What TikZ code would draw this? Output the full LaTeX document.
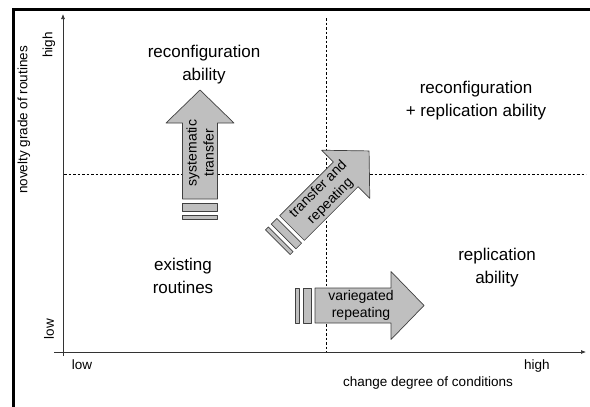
\documentclass[tikz,border=0pt]{standalone}
\usepackage{fontspec}
\setmainfont{Liberation Sans}
\usetikzlibrary{arrows.meta,positioning}

\begin{document}
\begin{tikzpicture}[
    x=1pt, y=-1pt,
    axis/.style={draw=black!80, line width=0.7pt, -{Latex[length=5pt,width=4pt]}},
    split/.style={draw=black, line width=0.6pt, dash pattern=on 2.5pt off 2pt},
    arr/.style={fill=black!25, draw=black!75, line width=0.7pt, line join=round},
    field/.style={align=center, font=\fontsize{17}{23}\selectfont},
    small/.style={align=center, font=\fontsize{13.5}{17}\selectfont},
    albl/.style={align=center, font=\fontsize{14}{17}\selectfont, inner sep=0pt},
    pics/bigarrow/.style={code={
      \filldraw[arr] (0,-17.5) -- (76,-17.5) -- (76,-34) -- (109,0)
                     -- (76,34) -- (76,17.5) -- (0,17.5) -- cycle;
      \filldraw[arr] (-4,-17.5) rectangle (-12,17.5);
      \filldraw[arr] (-16,-17.5) rectangle (-20,17.5);
      \node[albl, transform shape] (-txt) at (46,0) {#1};
    }}
  ]
  \useasboundingbox (0,0) rectangle (590,407);

  % frame (left and top only)
  \draw[line width=3pt] (13,408) -- (13,9) -- (591,9);

  % axes
  \coordinate (o)  at (63,352);
  \coordinate (yb) at (63,356);
  \coordinate (yt) at (63,14);
  \coordinate (xl) at (54,352);
  \coordinate (xr) at (586,352);
  \draw[axis] (yb) -- (yt);
  \draw[axis] (xl) -- (xr);

  % quadrant borders
  \coordinate (hl) at (64,174);
  \coordinate (hr) at (586,174);
  \coordinate (vt) at (326,18);
  \coordinate (vb) at (326,352);
  \draw[split] (hl) -- (hr);
  \draw[split] (vt) -- (vb);

  % axis labels
  \node[small, rotate=90] (novelty) at (24,120) {novelty grade of routines};
  \node[small, rotate=90] (yhigh) at (49,45) {high};
  \node[small, rotate=90] (ylow) at (49,329) {low};
  \node[small] (xlow) at (82,365) {low};
  \node[small] (xhigh) at (537,366) {high};
  \node[small] (change) at (428,383) {change degree of conditions};

  % quadrants
  \node[field] (reconf) at (204,65) {reconfiguration\\ability};
  \node[field] (both) at (476,101) {reconfiguration\\+ replication ability};
  \node[field] (exist) at (183,276) {existing\\routines};
  \node[field] (repl) at (497,268) {replication\\ability};

  % development paths
  \pic[rotate=90] (sys) at (200,199) {bigarrow={systematic\\transfer}};
  \pic[rotate=45] (trr) at (292,228) {bigarrow={transfer and\\repeating}};
  \pic (var) at (315,305.5) {bigarrow={variegated\\repeating}};
\end{tikzpicture}
\end{document}
